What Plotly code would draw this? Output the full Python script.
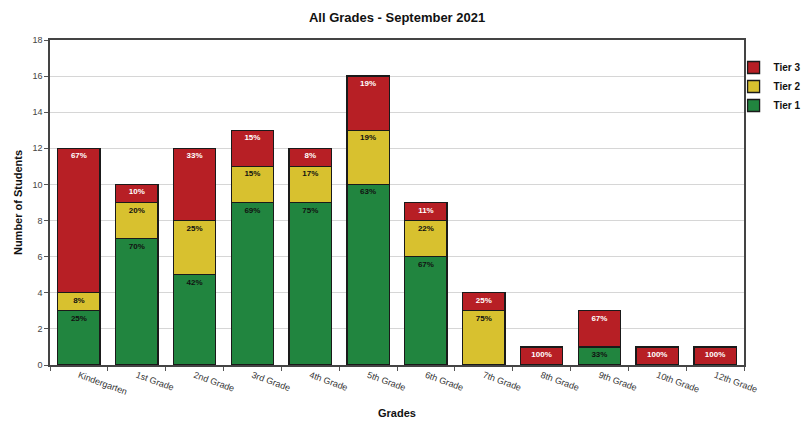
import plotly.graph_objects as go

# Student counts per grade, split by intervention tier
grades = ["Kindergarten", "1st Grade", "2nd Grade", "3rd Grade", "4th Grade",
          "5th Grade", "6th Grade", "7th Grade", "8th Grade", "9th Grade",
          "10th Grade", "12th Grade"]
tier1 = [3, 7, 5, 9, 9, 10, 6, 0, 0, 1, 0, 0]
tier2 = [1, 2, 3, 2, 2, 3, 2, 3, 0, 0, 0, 0]
tier3 = [8, 1, 4, 2, 1, 3, 1, 1, 1, 2, 1, 1]

totals = [a + b + c for a, b, c in zip(tier1, tier2, tier3)]


def pct_labels(values):
    # share of each grade's total, rounded half up; empty segments get no label
    out = []
    for v, t in zip(values, totals):
        out.append(f"{int(v * 100 / t + 0.5)}%" if v > 0 else "")
    return out


FONT = "Liberation Sans, Arial, sans-serif"
series = [
    ("Tier 1", tier1, "#21853f", "#111111"),
    ("Tier 2", tier2, "#d8c12f", "#111111"),
    ("Tier 3", tier3, "#b71f25", "#ffffff"),
]

fig = go.Figure()
for name, vals, color, txtcolor in series:
    fig.add_trace(go.Bar(
        name=name,
        x=grades,
        y=vals,
        marker=dict(color=color, line=dict(color="#1a1a1a", width=1.3)),
        text=pct_labels(vals),
        textposition="inside",
        insidetextanchor="end",
        constraintext="none",
        textangle=0,
        textfont=dict(family=FONT, size=8, color=txtcolor, weight="bold"),
    ))

fig.update_layout(
    barmode="stack",
    bargap=0.27,
    width=812,
    height=423,
    margin=dict(l=50, r=68, t=40, b=58, autoexpand=False),
    paper_bgcolor="white",
    plot_bgcolor="white",
    font=dict(family=FONT, color="#222222"),
    title=dict(text="<b>All Grades - September 2021</b>",
               x=0.489, xanchor="center", y=0.958, yanchor="middle",
               font=dict(family=FONT, size=13, color="#111111")),
    legend=dict(x=0.985, xanchor="left", y=0.96, yanchor="top",
                bgcolor="rgba(0,0,0,0)",
                traceorder="reversed",
                font=dict(family=FONT, size=10, color="#111111", weight="bold"),
                itemwidth=30, tracegroupgap=0),
    xaxis=dict(
        title=dict(text="<b>Grades</b>", font=dict(family=FONT, size=11, color="#111111"),
                   standoff=14),
        tickangle=20,
        tickfont=dict(family=FONT, size=9, color="#333333"),
        tickson="boundaries",
        ticks="outside",
        ticklen=4,
        tickcolor="#555555",
        showline=True,
        linecolor="#444444",
        linewidth=1.5,
        mirror=True,
    ),
    yaxis=dict(
        title=dict(text="<b>Number of Students</b>",
                   font=dict(family=FONT, size=11, color="#111111"), standoff=8),
        range=[0, 18],
        dtick=2,
        tickfont=dict(family=FONT, size=9, color="#444444"),
        ticks="outside",
        ticklen=4,
        tickcolor="#555555",
        showgrid=True,
        gridcolor="#d6d6d6",
        gridwidth=1,
        showline=True,
        linecolor="#444444",
        linewidth=1.5,
        mirror=True,
        zeroline=False,
    ),
)

fig.write_html("out.html")
